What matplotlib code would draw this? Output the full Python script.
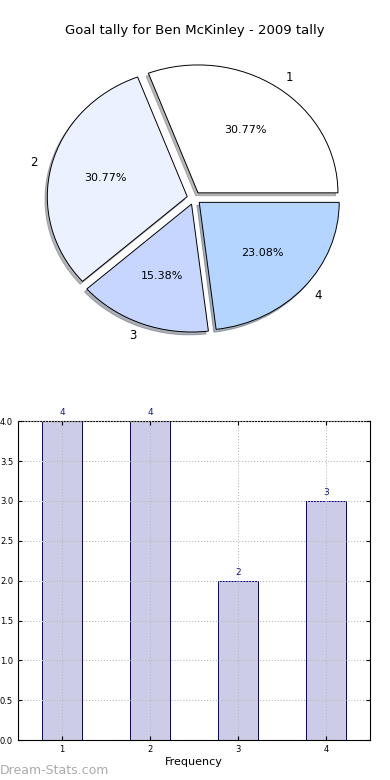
import matplotlib
matplotlib.use("Agg")
import matplotlib.pyplot as plt
import numpy as np

# goal tally data
categories = ["1", "2", "3", "4"]
goals = [4, 4, 2, 3]
pie_colors = ["#ffffff", "#ebf1ff", "#c6d6ff", "#b4d5ff"]
title = "Goal tally for Ben McKinley - 2009 tally"

fig = plt.figure(figsize=(3.9, 7.8), dpi=100)

# pie chart
ax1 = fig.add_axes([0.049, 0.541, 0.897, 0.410])
wedges, texts, autotexts = ax1.pie(goals, labels=categories, colors=pie_colors,
                                   explode=[0.05] * len(goals),
                                   shadow=dict(ox=-0.012, oy=-0.016, shade=0.55),
                                   autopct="%1.2f%%", startangle=0,
                                   wedgeprops=dict(edgecolor="black", linewidth=0.7),
                                   textprops=dict(fontsize=8))
for t in texts:
    t.set_fontsize(8.5)
ax1.set_aspect("auto")
ax1.set_xlim(-1.25, 1.25)
ax1.set_ylim(-1.25, 1.25)
fig.text(0.5, 0.961, title, ha="center", va="center", fontsize=9.5)

# bar chart
ax2 = fig.add_axes([0.046, 0.051, 0.903, 0.409])
x = np.arange(1, len(goals) + 1)
bars = ax2.bar(x, goals, width=0.45, color="#ccccE6", edgecolor="#000080",
               linewidth=0.7, zorder=1)
for xi, v in zip(x, goals):
    ax2.text(xi, v + 0.05, str(v), ha="center", va="bottom", fontsize=6.5,
             color="#1a1a80")
ax2.set_xlim(0.5, 4.5)
ax2.set_ylim(0, 4)
ax2.set_xticks(x)
ax2.set_xticklabels(categories)
ax2.set_yticks(np.arange(0, 4.01, 0.5))
ax2.tick_params(labelsize=6, direction="in", top=True, right=True, length=3)
ax2.grid(True, linestyle=":", color="#bbbbbb", linewidth=0.8, zorder=2)
ax2.set_axisbelow(False)
ax2.set_xlabel("Frequency", fontsize=8, labelpad=2)

fig.text(0.0, 0.012, "Dream-Stats.com", fontsize=9, color="#aaaaaa",
         ha="left", va="center")

fig.savefig("out.png", dpi=100)
